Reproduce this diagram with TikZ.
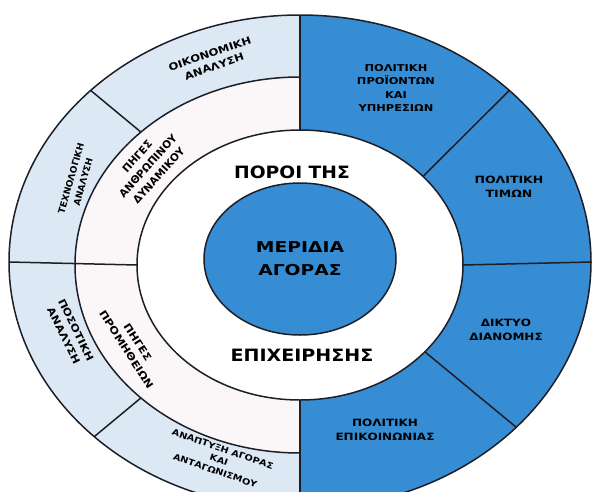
\documentclass[tikz,border=0pt]{standalone}
\usepackage{fontspec}
\setmainfont{DejaVu Sans}
\usetikzlibrary{calc}
\definecolor{ringblue}{RGB}{54,141,211}
\definecolor{paleblue}{RGB}{220,233,245}
\definecolor{palewhite}{RGB}{251,247,249}
\definecolor{inkline}{RGB}{28,30,40}
\begin{document}
\begin{tikzpicture}[x=1pt,y=-1pt,
  edge/.style={draw=inkline, line width=1.5pt},
  bigtext/.style={font=\bfseries\fontsize{17}{20}\selectfont, text=black, inner sep=0pt, align=center},
  smalltext/.style={font=\bfseries\fontsize{10}{13.5}\selectfont, text=black, inner sep=0pt, align=center},
  tinytext/.style={font=\bfseries\fontsize{9}{12.5}\selectfont, text=black, inner sep=0pt, align=center}]
\useasboundingbox (0,0) rectangle (595,491);
% centres of the four ellipses
\coordinate (oc) at (300,262);
\coordinate (mc) at (300,265);
\coordinate (wc) at (300,265);
\coordinate (cc) at (300,259);
\begin{scope}
\clip (0,0) rectangle (595,491);
% outer ring: pale left half, blue right half
\fill[paleblue] (oc) ellipse [x radius=291, y radius=247];
\begin{scope}
  \clip (300,-10) rectangle (600,520);
  \fill[ringblue] (oc) ellipse [x radius=291, y radius=247];
\end{scope}
% second ring, left half only
\begin{scope}
  \clip (-10,-10) rectangle (300,520);
  \fill[palewhite] (mc) ellipse [x radius=225, y radius=188];
\end{scope}
% white ring and centre
\fill[white] (wc) ellipse [x radius=163, y radius=135];
\fill[ringblue] (cc) ellipse [x radius=96, y radius=76];

% boundaries
\draw[edge] (oc) ellipse [x radius=291, y radius=247];
\draw[edge] ($(mc)+(0,-188)$) arc [start angle=-90, end angle=-270, x radius=225, y radius=188];
\draw[edge] (wc) ellipse [x radius=163, y radius=135];
\draw[edge] (cc) ellipse [x radius=96, y radius=76];

% divider end points
\coordinate (otop) at ($(oc)+(0,-247)$);
\coordinate (obot) at ($(oc)+(0,247)$);
\coordinate (wtop) at ($(wc)+(0,-135)$);
\coordinate (wbot) at ($(wc)+(0,135)$);
\coordinate (oright) at ($(oc)+(291,0)$);
\coordinate (wright) at ($(wc)+(163,0)$);
\coordinate (oleft) at ($(oc)+(-291,0)$);
\coordinate (wleft) at ($(wc)+(-163,0)$);
\coordinate (otr) at ($(oc)+({291*cos(-44)},{247*sin(-44)})$);
\coordinate (wtr) at ($(wc)+({163*cos(-41)},{135*sin(-41)})$);
\coordinate (obr) at ($(oc)+({291*cos(42)},{247*sin(42)})$);
\coordinate (wbr) at ($(wc)+({163*cos(40)},{135*sin(40)})$);
\coordinate (otl) at ($(oc)+({291*cos(-136)},{247*sin(-136)})$);
\coordinate (mtl) at ($(mc)+({225*cos(-135)},{188*sin(-135)})$);
\coordinate (obl) at ($(oc)+({291*cos(135)},{247*sin(135)})$);
\coordinate (mbl) at ($(mc)+({225*cos(135)},{188*sin(135)})$);

\draw[edge] (otop) -- (wtop);
\draw[edge] (wbot) -- (obot);
\draw[edge] (wright) -- (oright);
\draw[edge] (oleft) -- (wleft);
\draw[edge] (otr) -- (wtr);
\draw[edge] (obr) -- (wbr);
\draw[edge] (otl) -- (mtl);
\draw[edge] (obl) -- (mbl);

% label at the foot of the outer ring, partly cut by the page edge
\node[tinytext, rotate=-19, xscale=1.15, font=\bfseries\fontsize{8.5}{11.5}\selectfont] (anapt) at (219,460) {ΑΝΑΠΤΥΞΗ ΑΓΟΡΑΣ\\ΚΑΙ\\ΑΝΤΑΓΩΝΙΣΜΟΥ};
\end{scope}

% inner ring and centre
\node[bigtext, xscale=1.1] (poroi) at (292,172) {ΠΟΡΟΙ ΤΗΣ};
\node[bigtext, xscale=1.12] (epix) at (302,355) {ΕΠΙΧΕΙΡΗΣΗΣ};
\node[bigtext, xscale=1.25, font=\bfseries\fontsize{15}{23}\selectfont] (meridia) at (300,259) {ΜΕΡΙΔΙΑ\\ΑΓΟΡΑΣ};

% blue half of the outer ring
\node[tinytext, xscale=1.2, font=\bfseries\fontsize{9.5}{13.5}\selectfont] (proion) at (396,88) {ΠΟΛΙΤΙΚΗ\\ΠΡΟΪΟΝΤΩΝ\\ΚΑΙ\\ΥΠΗΡΕΣΙΩΝ};
\node[smalltext, xscale=1.25] (timon) at (509,187) {ΠΟΛΙΤΙΚΗ\\ΤΙΜΩΝ};
\node[smalltext, xscale=1.2] (diktyo) at (506,330) {ΔΙΚΤΥΟ\\ΔΙΑΝΟΜΗΣ};
\node[smalltext, xscale=1.2] (epik) at (385,430) {ΠΟΛΙΤΙΚΗ\\ΕΠΙΚΟΙΝΩΝΙΑΣ};

% pale half of the outer ring
\node[smalltext, rotate=19, xscale=1.15] (oikon) at (212,60) {ΟΙΚΟΝΟΜΙΚΗ\\ΑΝΑΛΥΣΗ};
\node[tinytext, rotate=74] (texn) at (77,180) {ΤΕΧΝΟΛΟΓΙΚΗ\\ΑΝΑΛΥΣΗ};
\node[smalltext, rotate=-64, xscale=1.15] (posot) at (70,333) {ΠΟΣΟΤΙΚΗ\\ΑΝΑΛΥΣΗ};

% second ring
\node[smalltext, rotate=48, font=\bfseries\fontsize{10.5}{14.5}\selectfont] (anthr) at (148,166) {ΠΗΓΕΣ\\ΑΝΘΡΩΠΙΝΟΥ\\ΔΥΝΑΜΙΚΟΥ};
\node[smalltext, rotate=-57, xscale=1.15] (prom) at (132,346) {ΠΗΓΕΣ\\ΠΡΟΜΗΘΕΙΩΝ};
\end{tikzpicture}
\end{document}
